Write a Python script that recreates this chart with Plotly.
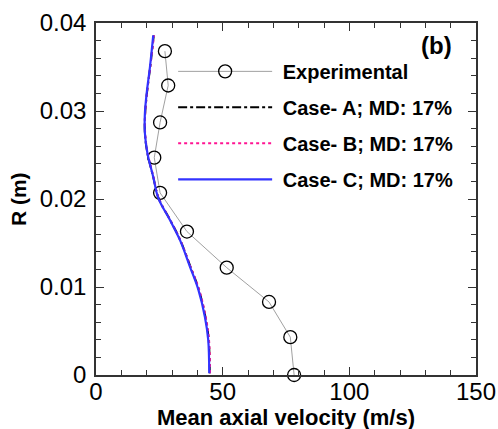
import plotly.graph_objects as go

# Experimental data
exp_u = [78.2, 76.7, 68.3, 51.6, 35.9, 25.3, 23.0, 25.3, 28.5, 27.2]
exp_r = [0.0, 0.0043, 0.0083, 0.0122, 0.0163, 0.0207, 0.0247, 0.0287, 0.0329, 0.0368]

# Simulated profiles
sim_r = [0.0002, 0.0040, 0.0066, 0.0097, 0.0123, 0.0153, 0.0176, 0.0201, 0.0225,
         0.0252, 0.0275, 0.0297, 0.0320, 0.0350, 0.0386]
case_a = [44.9, 44.5, 43.2, 40.6, 37.3, 33.3, 29.3, 24.7, 22.6, 20.3, 19.3, 19.4, 20.1, 21.4, 22.8]
case_b = [45.0, 44.6, 43.3, 40.7, 37.3, 33.3, 29.3, 24.7, 22.7, 20.4, 19.4, 19.4, 20.1, 21.4, 22.9]
case_c = [44.7, 44.3, 43.0, 40.4, 37.1, 33.2, 29.2, 24.6, 22.6, 20.3, 19.3, 19.3, 20.0, 21.3, 22.6]

names = ["Experimental", "Case- A; MD: 17%", "Case- B; MD: 17%", "Case- C; MD: 17%"]
x_title = "Mean axial velocity (m/s)"
y_title = "R (m)"

FONT = "Liberation Sans, Arial, sans-serif"
NB = "\u00a0"

fig = go.Figure()
fig.add_trace(go.Scatter(
    x=exp_u, y=exp_r, mode="lines+markers", name=NB + names[0], legendgroup="g0",
    line=dict(color="#888888", width=0.8),
    marker=dict(symbol="circle-open", size=13, color="black", line=dict(width=1.3, color="black")),
    cliponaxis=False))
fig.add_trace(go.Scatter(
    x=case_a, y=sim_r, mode="lines", name=NB + names[1], legendgroup="g1",
    line=dict(color="black", width=2, dash="dashdot", shape="spline")))
fig.add_trace(go.Scatter(
    x=case_b, y=sim_r, mode="lines", name=NB + names[2], legendgroup="g2",
    line=dict(color="#ff1493", width=2, dash="dot", shape="spline")))
fig.add_trace(go.Scatter(
    x=case_c, y=sim_r, mode="lines", name=NB + names[3], legendgroup="g3",
    line=dict(color="#3333ff", width=2.2, shape="spline")))

axis_common = dict(
    showline=True, linecolor="#333333", linewidth=1.5, mirror="allticks",
    ticks="inside", ticklen=8, tickwidth=1.2, tickcolor="#333333",
    showgrid=False, zeroline=False, automargin=False,
    tickfont=dict(family=FONT, size=24, color="black"),
)

fig.update_xaxes(
    range=[0, 150], tickvals=[0, 50, 100, 150],
    minor=dict(dtick=10, ticks="inside", ticklen=5, tickcolor="#333333", showgrid=False),
    ticklabelstandoff=-6,
    **axis_common)
fig.update_yaxes(
    range=[0, 0.04], tickvals=[0, 0.01, 0.02, 0.03, 0.04],
    ticktext=["0", "0.01", "0.02", "0.03", "0.04"],
    minor=dict(dtick=0.002, ticks="inside", ticklen=5, tickcolor="#333333", showgrid=False),
    ticklabelstandoff=3,
    **axis_common)

fig.update_layout(
    width=498, height=429,
    margin=dict(l=96, r=22, t=23, b=54),
    plot_bgcolor="white", paper_bgcolor="white",
    legend=dict(
        x=0.203, y=0.918, xanchor="left", yanchor="top",
        bgcolor="rgba(0,0,0,0)", borderwidth=0,
        font=dict(family=FONT, size=20, color="black", weight="bold"),
        itemwidth=94, tracegroupgap=7, traceorder="grouped",
    ),
    showlegend=True,
    annotations=[
        dict(text="(b)", xref="paper", yref="paper", x=0.895, y=0.935,
             xanchor="center", yanchor="middle", showarrow=False,
             font=dict(family=FONT, size=24, color="black", weight="bold")),
        dict(text=x_title, xref="paper", yref="paper", x=0.5, y=-0.121,
             xanchor="center", yanchor="middle", showarrow=False,
             font=dict(family=FONT, size=22, color="black", weight="bold")),
        dict(text=y_title, xref="paper", yref="paper", x=-0.205, y=0.5,
             xanchor="center", yanchor="middle", showarrow=False, textangle=-90,
             font=dict(family=FONT, size=21, color="black", weight="bold")),
    ],
)

fig.write_html("out.html")
